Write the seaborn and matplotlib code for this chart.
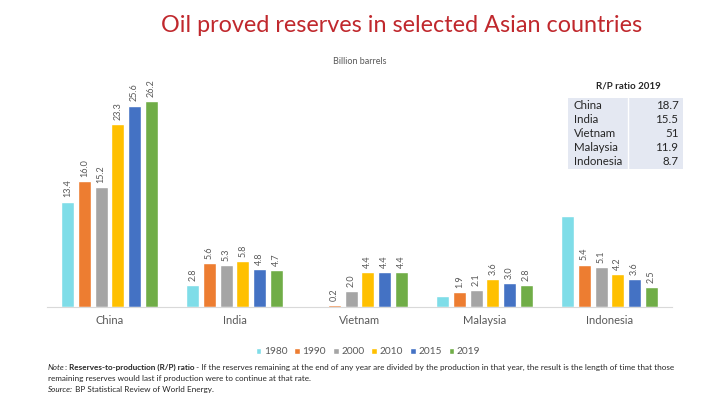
import matplotlib.pyplot as plt
import pandas as pd
import seaborn as sns

countries = ['China', 'India', 'Vietnam', 'Malaysia', 'Indonesia']
years = ['1980', '1990', '2000', '2010', '2015', '2019']
reserves = {
    '1980': [13.4, 2.8, 0.0, 1.4, 11.6],
    '1990': [16.0, 5.6, 0.2, 1.9, 5.4],
    '2000': [15.2, 5.3, 2.0, 2.1, 5.1],
    '2010': [23.3, 5.8, 4.4, 3.6, 4.2],
    '2015': [25.6, 4.8, 4.4, 3.0, 3.6],
    '2019': [26.2, 4.7, 4.4, 2.8, 2.5],
}
# bars that carry no value label in the original
unlabeled = [('Vietnam', '1980'), ('Malaysia', '1980'), ('Indonesia', '1980')]

rp_countries = ['China', 'India', 'Vietnam', 'Malaysia', 'Indonesia']
rp_ratio = ['18.7', '15.5', '51', '11.9', '8.7']

colors = ['#7fdde8', '#ed7d31', '#a5a5a5', '#ffc000', '#4472c4', '#70ad47']
grey_txt = '#595959'

rows = []
for y in years:
    for c, v in zip(countries, reserves[y]):
        rows.append({'country': c, 'year': y, 'value': v})
df = pd.DataFrame(rows)

sns.set_style('white')
plt.rcParams['font.family'] = ['Lato', 'DejaVu Sans']

fig = plt.figure(figsize=(7.2, 3.99), dpi=100)
ax = fig.add_axes([47 / 720, 92 / 399, 625 / 720, 247 / 399])

sns.barplot(data=df, x='country', y='value', hue='year', order=countries,
            hue_order=years, palette=colors, width=0.8, gap=0.22,
            saturation=1, ax=ax)

for cont, y in zip(ax.containers, years):
    labels = []
    for c, v in zip(countries, reserves[y]):
        labels.append('' if (c, y) in unlabeled else f'{v:.1f}')
    ax.bar_label(cont, labels=labels, rotation=90, padding=3,
                 fontsize=6.5, color=grey_txt)

ax.set_ylim(0, 31.4)
ax.set_xlim(-0.5, 4.5)
ax.set_xlabel('')
ax.set_ylabel('')
ax.set_yticks([])
ax.tick_params(axis='x', length=0, labelsize=8, labelcolor=grey_txt, pad=6)
for s in ['top', 'left', 'right']:
    ax.spines[s].set_visible(False)
ax.spines['bottom'].set_color('#d9d9d9')
ax.spines['bottom'].set_linewidth(0.8)

ax.legend(loc='center', bbox_to_anchor=(368 / 720, 1 - 352 / 399),
          bbox_transform=fig.transFigure, ncol=6, frameon=False,
          fontsize=7.3, handlelength=0.55, handleheight=0.55,
          handletextpad=0.25, columnspacing=0.7,
          labelcolor=grey_txt)

# title and unit
fig.text(402 / 720, 1 - 25 / 399, 'Oil proved reserves in selected Asian countries',
         ha='center', va='center', fontsize=16.8, color='#c0282d')
fig.text(360 / 720, 1 - 62 / 399, 'Billion barrels', ha='center', va='center',
         fontsize=6.5, color=grey_txt)

# R/P ratio table
tab = fig.add_axes([568 / 720, 1 - 169 / 399, 115 / 720, 71 / 399])
tab.set_xlim(0, 1)
tab.set_ylim(len(rp_countries), 0)
tab.axis('off')
tab.add_patch(plt.Rectangle((0, 0), 1, len(rp_countries),
                            color='#e4e8f2', lw=0))
tab.axvline(0.52, color='white', lw=1)
for i, (c, r) in enumerate(zip(rp_countries, rp_ratio)):
    tab.text(0.05, i + 0.5, c, va='center', ha='left', fontsize=8.3,
             color='#262626')
    tab.text(0.96, i + 0.5, r, va='center', ha='right', fontsize=8.3,
             color='#262626')
fig.text(628 / 720, 1 - 86 / 399, 'R/P ratio 2019', ha='center', va='center',
         fontsize=7, fontweight='bold', color='#262626')

# note and source
fs = 5.9
t1 = fig.text(48 / 720, 1 - 370 / 399, 'Note', fontsize=fs, style='italic',
              va='baseline', color='#262626')
t2 = fig.text(0, 0, ': Reserves-to-production (R/P) ratio', fontsize=fs,
              fontweight='bold', va='baseline', color='#262626',
              transform=t1.get_transform())
fig.canvas.draw()
r = fig.canvas.get_renderer()
bb = t1.get_window_extent(r)
t2.set_position((bb.x1 / fig.bbox.width, 1 - 370 / 399))
fig.canvas.draw()
bb2 = t2.get_window_extent(r)
fig.text(bb2.x1 / fig.bbox.width, 1 - 370 / 399,
         ' - If the reserves remaining at the end of any year are divided by '
         'the production in that year, the result is the length of time that '
         'those', fontsize=fs, va='baseline', color='#262626')
fig.text(48 / 720, 1 - 381 / 399,
         'remaining reserves would last if production were to continue at '
         'that rate.', fontsize=fs, va='baseline', color='#262626')
s1 = fig.text(48 / 720, 1 - 392 / 399, 'Source:', fontsize=fs, style='italic',
              va='baseline', color='#262626')
fig.canvas.draw()
bs = s1.get_window_extent(r)
fig.text(bs.x1 / fig.bbox.width, 1 - 392 / 399,
         ' BP Statistical Review of World Energy.', fontsize=fs,
         va='baseline', color='#262626')

fig.savefig('out.png', dpi=100)
